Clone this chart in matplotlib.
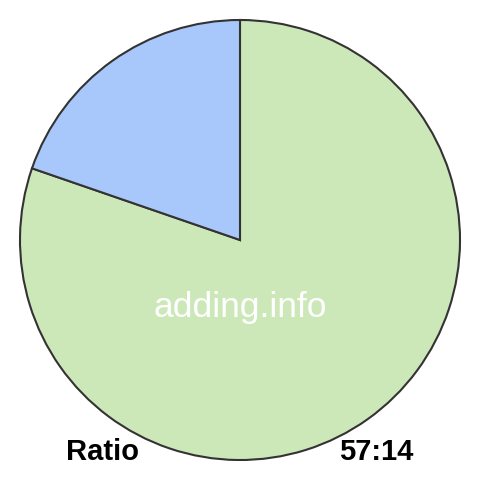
import matplotlib.pyplot as plt

labels = ['57', '14']
values = [57, 14]
colors = ['#cde8b8', '#a8c8fc']

plt.rcParams['font.family'] = ['Liberation Sans', 'DejaVu Sans']

fig = plt.figure(figsize=(4.8, 4.8), dpi=100)
ax = fig.add_axes([0, 0, 1, 1])

ax.pie(values, colors=colors, startangle=90, counterclock=False,
       center=(240, 240), radius=220, frame=True,
       wedgeprops=dict(edgecolor='#333333', linewidth=1.5))
ax.set_xlim(0, 480)
ax.set_ylim(0, 480)
ax.set_aspect('equal')
ax.axis('off')

ax.text(240, 172, 'adding.info', color='white', fontsize=25.5,
        ha='center', va='center')
ax.text(103, 28, 'Ratio', fontsize=21, fontweight='bold',
        ha='center', va='center')
ax.text(376, 28, f'{values[0]}:{values[1]}', fontsize=21, fontweight='bold',
        ha='center', va='center')

fig.savefig('out.png', dpi=100)
